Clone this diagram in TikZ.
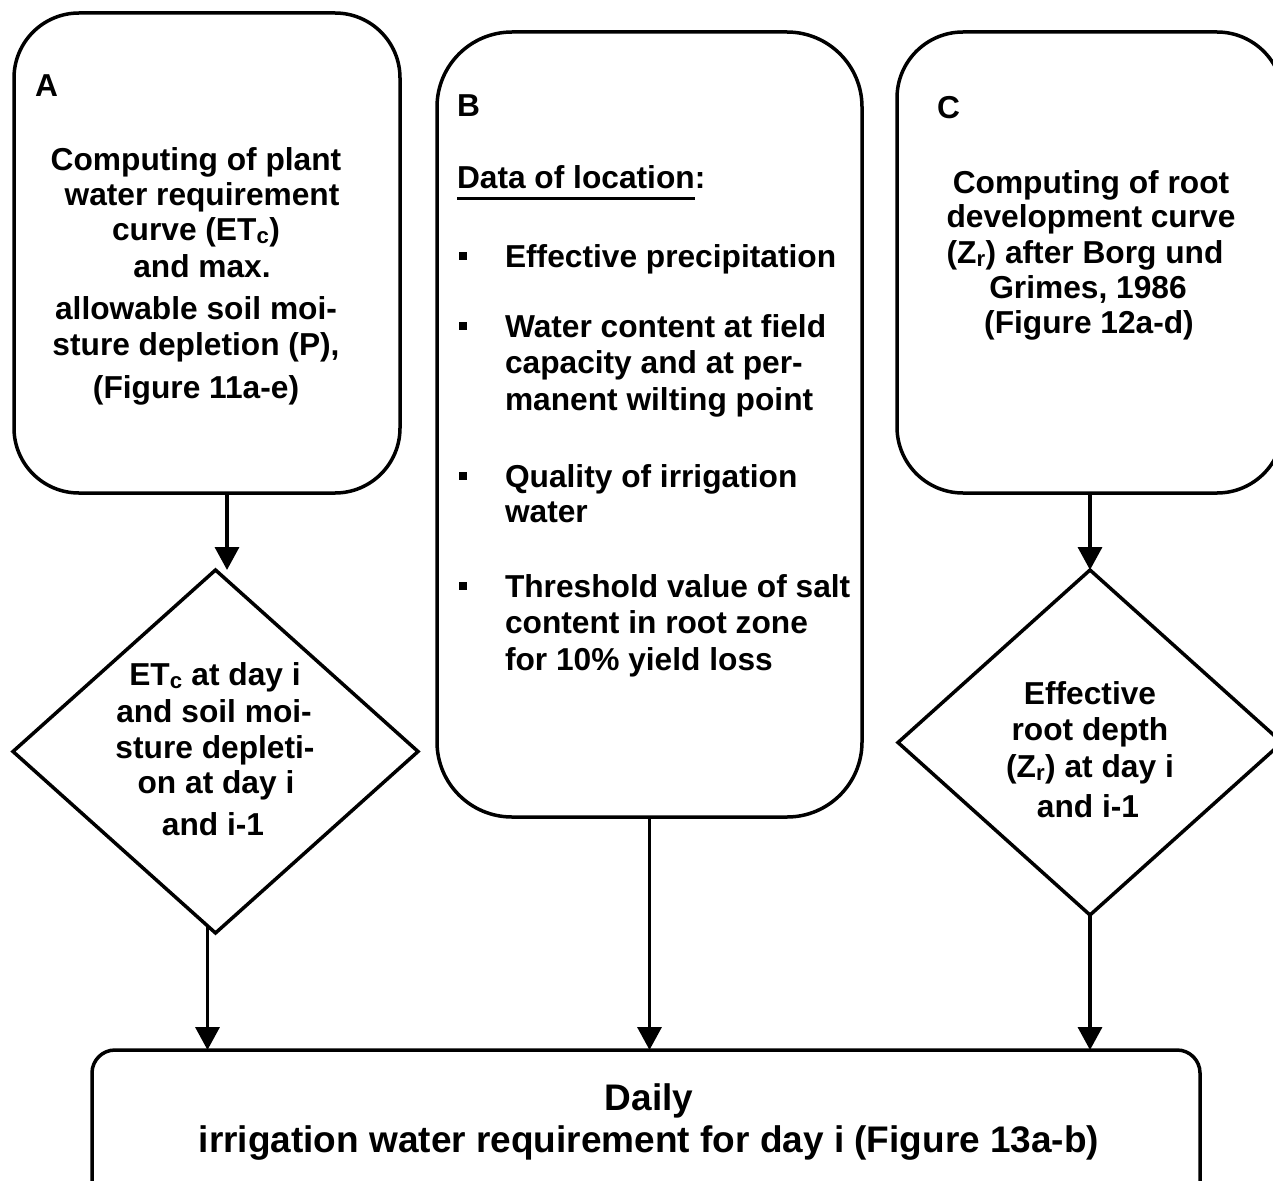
\documentclass[tikz,border=0pt]{standalone}
\usepackage{fontspec}
\setmainfont{Liberation Sans}
\usetikzlibrary{shapes.geometric,arrows.meta}
\begin{document}
\begin{tikzpicture}[x=1pt,y=-1pt,
  every node/.style={inner sep=0pt, outer sep=0pt},
  box/.style={draw, line width=3.5pt, rectangle, rounded corners=#1},
  dia/.style={draw, line width=3.5pt, diamond, inner sep=0pt},
  t/.style={font=\fontsize{31.7}{36}\selectfont\bfseries, anchor=base},
  tl/.style={t, anchor=base west},
  big/.style={font=\fontsize{37}{42}\selectfont\bfseries, anchor=base},
  arr/.style={line width=3.5pt, -{Triangle[width=24pt,length=23pt]}},
  bul/.style={fill, rectangle, minimum size=8pt}
]
\useasboundingbox (0,0) rectangle (1273,1180);
\clip (0,0) rectangle (1273,1180);

% boxes
\node[box=65pt, minimum width=386pt, minimum height=480pt] (A) at (207,253) {};
\node[box=75pt, minimum width=425pt, minimum height=785pt] (B) at (649.5,424.5) {};
\node[box=66pt, minimum width=386pt, minimum height=461pt] (C) at (1090,262.5) {};
\node[box=23pt, minimum width=1108pt, minimum height=160pt] (D) at (646,1130) {};

% diamonds
\node[dia, minimum width=405pt, minimum height=363pt] (dA) at (215.5,751.5) {};
\node[dia, minimum width=384pt, minimum height=345pt] (dC) at (1090,742.5) {};

% box A text
\node[tl] (Alab) at (35,97) {A};
\foreach \x/\y/\s [count=\i] in {
  196/170/{Computing of plant},
  202/205/{water requirement},
  196/240/{curve (ET\textsubscript{c})},
  202/277/{and max.},
  196/319/{allowable soil moi-},
  196/355/{sture depletion (P),},
  196/398/{(Figure 11a-e)}}
  \node[t] (a\i) at (\x,\y) {\s};

% box B text
\node[tl] (Blab) at (457,117) {B};
\node[tl] (dl) at (457,188) {Data of location};
\node[tl] (dlc) at (dl.base east) {:};
\draw[line width=3pt] ([yshift=-10pt]dl.base west) -- ([yshift=-10pt]dl.base east);
\foreach \y/\s [count=\i] in {
  267/{Effective precipitation},
  337/{Water content at field},
  373/{capacity and at per-},
  410/{manent wilting point},
  487/{Quality of irrigation},
  522/{water},
  597/{Threshold value of salt},
  633/{content in root zone},
  670/{for 10\% yield loss}}
  \node[tl] (b\i) at (505,\y) {\s};
\foreach \y [count=\i] in {256,326,476,586}
  \node[bul] (bu\i) at (463,\y) {};

% box C text
\node[tl] (Clab) at (937,118) {C};
\foreach \x/\y/\s [count=\i] in {
  1091/193/{Computing of root},
  1091/227/{development curve},
  1085/263/{(Z\textsubscript{r}) after Borg und},
  1088/298/{Grimes, 1986},
  1089/333/{(Figure 12a-d)}}
  \node[t] (c\i) at (\x,\y) {\s};

% diamond A text
\foreach \x/\y/\s [count=\i] in {
  215/685/{ET\textsubscript{c} at day i},
  214/722/{and soil moi-},
  215/758/{sture depleti-},
  216/793/{on at day i},
  213/835/{and i-1}}
  \node[t] (da\i) at (\x,\y) {\s};

% diamond C text
\foreach \x/\y/\s [count=\i] in {
  1090/704/{Effective},
  1090/740/{root depth},
  1090/777/{(Z\textsubscript{r}) at day i},
  1088/817/{and i-1}}
  \node[t] (dc\i) at (\x,\y) {\s};

% bottom text
\node[big] (d1) at (649,1110) {Daily};
\node[big] (d2) at (649,1152) {irrigation water requirement for day i (Figure 13a-b)};

% connectors
\draw[arr] ([xshift=20pt]A.south) -- ([xshift=20pt]A.south |- dA.north);
\draw[arr] ([xshift=-8pt,yshift=8pt]dA.south) -- ([xshift=-8pt]dA.south |- D.north);
\draw[arr] (B.south) -- (B.south |- D.north);
\draw[arr] (C.south) -- (dC.north);
\draw[arr] (dC.south) -- (dC.south |- D.north);
\end{tikzpicture}
\end{document}
